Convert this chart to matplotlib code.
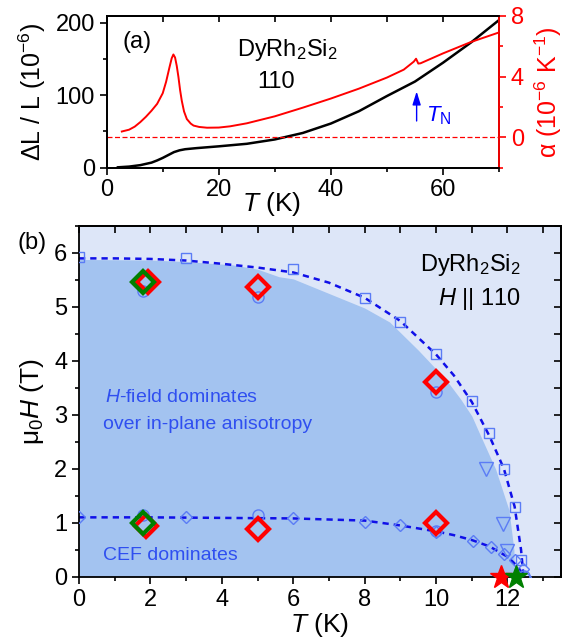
import matplotlib
matplotlib.use("Agg")
import matplotlib.pyplot as plt
from matplotlib.ticker import MultipleLocator

plt.rcParams['font.family'] = ['Liberation Sans', 'DejaVu Sans']
plt.rcParams['mathtext.fontset'] = 'custom'
plt.rcParams['mathtext.rm'] = 'Liberation Sans'
plt.rcParams['mathtext.it'] = 'Liberation Sans:italic'
plt.rcParams['axes.linewidth'] = 1.3

# ---- panel (a): thermal expansion, H || 110
T_dl = [2, 4, 6, 8, 9, 10, 11, 12, 13, 14, 16, 20, 25, 30, 35, 40, 45, 50, 55, 60,
        65, 70]
dL = [0.5, 1.5, 3.5, 7, 10, 13.5, 17.5, 21.5, 24, 25.5, 27, 29.5, 33, 39, 48, 61, 78,
      99, 119, 145, 173, 204]

T_alpha = [2.7, 4, 5, 6, 7, 8, 9, 10, 10.6, 11.2, 11.6, 11.9, 12.2, 12.5, 12.8, 13.1,
           13.4, 13.8, 14.3, 15, 15.5, 16.5, 17.9, 20, 22, 25, 30, 35, 40, 45, 50, 53,
           54.8, 55.2, 55.6, 56, 60, 65, 70]
alpha = [0.38, 0.5, 0.7, 1.0, 1.35, 1.75, 2.2, 2.9, 3.65, 4.6, 5.2, 5.45, 5.25, 4.7,
         3.97, 3.1, 2.4, 1.7, 1.2, 0.9, 0.77, 0.68, 0.63, 0.64, 0.72, 0.92, 1.38, 1.95,
         2.55, 3.2, 3.93, 4.45, 4.98, 5.17, 4.85, 4.87, 5.52, 6.27, 6.9]

T_N = 55.3

# ---- panel (b): phase diagram
sq_T = [0, 3, 6, 8, 9, 10, 11, 11.48, 11.9, 12.2, 12.39]
sq_H = [5.93, 5.91, 5.71, 5.17, 4.72, 4.12, 3.25, 2.66, 2.0, 1.29, 0.31]

dia_T = [0, 3, 6, 8, 9, 10, 11.04, 11.53, 11.9, 12.2, 12.44, 12.49]
dia_H = [1.1, 1.1, 1.09, 1.02, 0.95, 0.83, 0.66, 0.55, 0.42, 0.31, 0.14, 0.0]

tri_T = [11.39, 11.87, 11.99]
tri_H = [1.99, 0.98, 0.48]

circ_T = [1.8, 5.0, 10.0, 1.8, 5.0, 10.0, 12.45]
circ_H = [5.29, 5.18, 3.43, 1.14, 1.14, 0.85, 0.02]

red_T = [1.94, 5.0, 10.0, 1.89, 5.0, 10.0]
red_H = [5.46, 5.37, 3.6, 0.94, 0.89, 0.99]

green_T = [1.8, 1.8]
green_H = [5.47, 0.99]

star_T = [11.83, 12.25]
star_H = [0.0, 0.0]
star_col = ['red', 'green']

fit_up_T = [0, 1, 2, 3, 4, 5, 6, 7, 8, 9, 10, 10.5, 11, 11.5, 11.9, 12.2, 12.38, 12.45]
fit_up_H = [5.9, 5.9, 5.89, 5.86, 5.8, 5.73, 5.64, 5.45, 5.17, 4.74, 4.12, 3.73, 3.24,
            2.6, 2.0, 1.3, 0.5, 0.0]
fit_lo_T = [0, 2, 4, 6, 7, 8, 9, 10, 10.5, 11, 11.5, 12.0, 12.3, 12.45]
fit_lo_H = [1.1, 1.1, 1.09, 1.08, 1.06, 1.04, 0.95, 0.84, 0.77, 0.68, 0.56, 0.37, 0.18, 0.0]

reg_T = [0, 2, 3, 4.3, 5, 5.6, 6, 7, 8, 8.7, 9.5, 10.27, 10.69, 11.0, 11.2, 11.67,
         12.04, 12.18, 12.2]
reg_H = [5.88, 5.87, 5.84, 5.78, 5.7, 5.56, 5.52, 5.25, 4.98, 4.72, 4.2, 3.66, 3.29,
         2.98, 2.68, 1.99, 1.24, 0.5, 0.0]

fig = plt.figure(figsize=(5.69, 6.39), dpi=100)

# ================= (a)
ax1 = fig.add_axes([0.1875, 0.7376, 0.6895, 0.2378])
ax2 = ax1.twinx()
ax1.plot(T_dl, dL, color='black', lw=1.8)
ax1.set_xlim(0, 70)
ax1.set_ylim(0, 210)
ax1.xaxis.set_major_locator(MultipleLocator(20))
ax1.xaxis.set_minor_locator(MultipleLocator(10))
ax1.yaxis.set_major_locator(MultipleLocator(100))
ax1.yaxis.set_minor_locator(MultipleLocator(50))
ax1.tick_params(axis='both', which='both', direction='out', labelsize=17, width=1.2)
ax1.tick_params(which='major', length=5)
ax1.tick_params(which='minor', length=3)
top1 = ax1.secondary_xaxis('top')
top1.xaxis.set_major_locator(MultipleLocator(10))
top1.tick_params(direction='in', length=4, width=1.2, labeltop=False)
ax1.set_xlabel('$T$ (K)', fontsize=19)
ax1.xaxis.set_label_coords(0.42, -0.15)
ax1.set_ylabel('ΔL / L (10$^{-6}$)', fontsize=18)
ax1.yaxis.set_label_coords(-0.15, 0.5)
ax1.text(5.4, 174, '(a)', fontsize=17, ha='center', va='center')
ax1.text(32.3, 162, 'DyRh$_2$Si$_2$', fontsize=17, ha='center', va='center')
ax1.text(30.3, 119, '110', fontsize=17, ha='center', va='center')

ax2.plot(T_alpha, alpha, color='red', lw=1.4)
ax2.axhline(0, color='red', lw=0.9, ls=(0, (4, 2)))
ax2.set_ylim(-2, 8)
ax2.yaxis.set_major_locator(MultipleLocator(4))
ax2.yaxis.set_minor_locator(MultipleLocator(2))
ax2.tick_params(axis='y', which='both', direction='out', colors='red', labelsize=17, width=1.2)
ax2.tick_params(which='major', length=5)
ax2.tick_params(which='minor', length=3)
ax2.spines['right'].set_color('red')
ax2.set_ylabel('α (10$^{-6}$ K$^{-1}$)', fontsize=18, color='red', labelpad=6)
ax2.annotate('', xy=(T_N, 3.2), xytext=(T_N, 0.89),
             arrowprops=dict(arrowstyle='-|>,head_width=0.25,head_length=0.8',
                             color='blue', lw=1.0))
ax2.text(57.0, 1.45, '$T_\\mathrm{N}$', color='blue', fontsize=16, ha='left', va='center')

# ================= (b)
ax = fig.add_axes([0.1388, 0.0975, 0.8472, 0.5488])
ax.set_facecolor('#dde6f8')
ax.fill_between(reg_T, reg_H, 0, color='#a3c3f0', lw=0, zorder=0)
ax.plot(fit_up_T, fit_up_H, color='#1010e8', lw=1.8, ls=(0, (2.5, 2)), zorder=2)
ax.plot(fit_lo_T, fit_lo_H, color='#1010e8', lw=1.8, ls=(0, (2.5, 2)), zorder=2)
mc = '#5b7cf5'
ax.plot(sq_T, sq_H, ls='none', marker='s', ms=7, mfc='none', mec=mc, mew=1.0, zorder=3)
ax.plot(dia_T, dia_H, ls='none', marker='D', ms=6.5, mfc='none', mec=mc, mew=1.0, zorder=3)
ax.plot(tri_T, tri_H, ls='none', marker='v', ms=10, mfc='none', mec=mc, mew=1.0, zorder=3)
ax.plot(circ_T, circ_H, ls='none', marker='o', ms=8, mfc='none', mec=mc, mew=1.0, zorder=3)
ax.plot(red_T, red_H, ls='none', marker='D', ms=11, mfc='none', mec='red', mew=3, zorder=4)
ax.plot(green_T, green_H, ls='none', marker='D', ms=11, mfc='none', mec='green', mew=3,
        zorder=4)
for t, h, c in zip(star_T, star_H, star_col):
    ax.plot(t, h, ls='none', marker='*', ms=17, color=c, clip_on=False, zorder=5)

ax.set_xlim(0, 13.5)
ax.set_ylim(0, 6.5)
ax.xaxis.set_major_locator(MultipleLocator(2))
ax.xaxis.set_minor_locator(MultipleLocator(1))
ax.yaxis.set_major_locator(MultipleLocator(1))
ax.yaxis.set_minor_locator(MultipleLocator(0.5))
ax.tick_params(axis='both', which='both', direction='out', labelsize=17, width=1.2)
ax.tick_params(which='major', length=5)
ax.tick_params(which='minor', length=3)
sx = ax.secondary_xaxis('top')
sx.xaxis.set_major_locator(MultipleLocator(1))
sx.tick_params(direction='in', length=5, width=1.2, labeltop=False)
sy = ax.secondary_yaxis('right')
sy.yaxis.set_major_locator(MultipleLocator(0.5))
sy.tick_params(direction='in', length=5, width=1.2, labelright=False)
ax.set_xlabel('$T$ (K)', fontsize=19, labelpad=0)
ax.set_ylabel('μ$_0$$H$ (T)', fontsize=19, labelpad=6)

tc = '#2f4ff0'
ax.text(0.72, 3.33, '$H$-field dominates', color=tc, fontsize=14, ha='left', va='center')
ax.text(0.68, 2.83, 'over in-plane anisotropy', color=tc, fontsize=14, ha='left', va='center')
ax.text(0.68, 0.39, 'CEF dominates', color=tc, fontsize=14, ha='left', va='center')
ax.text(12.38, 5.77, 'DyRh$_2$Si$_2$', fontsize=17, ha='right', va='center')
ax.text(12.38, 5.15, '$H$ || 110', fontsize=17, ha='right', va='center')
fig.text(32 / 569, 1 - 243 / 639, '(b)', fontsize=17, ha='center', va='center')

fig.savefig('out.png', dpi=100)
